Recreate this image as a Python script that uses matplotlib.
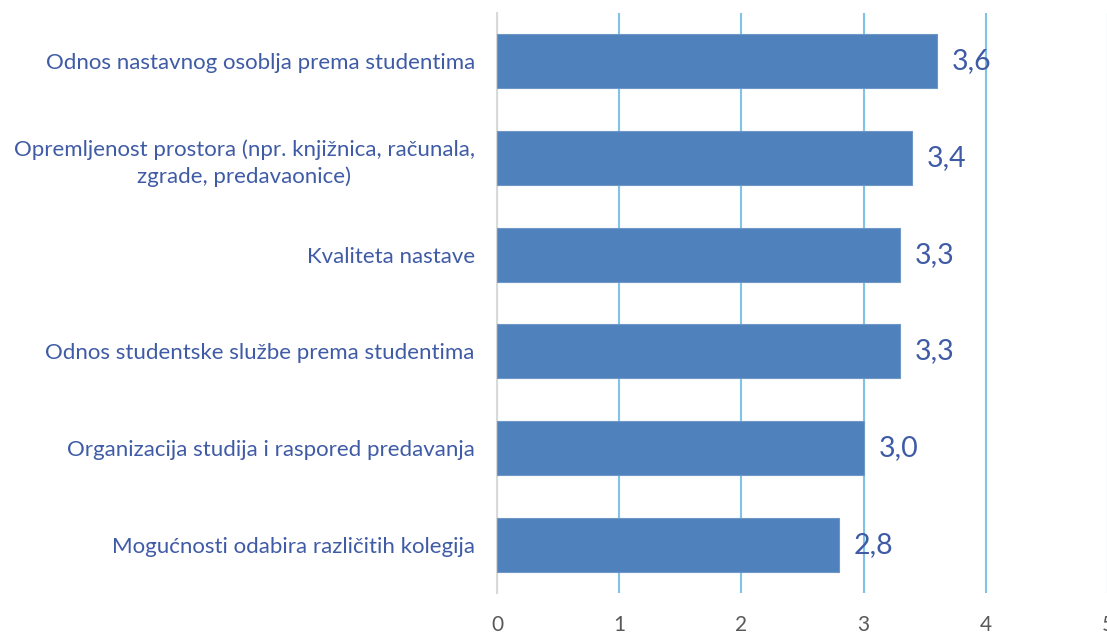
import matplotlib.pyplot as plt
import numpy as np

plt.rcParams['font.family'] = ['Lato', 'DejaVu Sans']

categories = [
    "Odnos nastavnog osoblja prema studentima",
    "Opremljenost prostora (npr. knjižnica, računala,\nzgrade, predavaonice)",
    "Kvaliteta nastave",
    "Odnos studentske službe prema studentima",
    "Organizacija studija i raspored predavanja",
    "Mogućnosti odabira različitih kolegija",
]
values = [3.6, 3.4, 3.3, 3.3, 3.0, 2.8]
value_labels = ["3,6", "3,4", "3,3", "3,3", "3,0", "2,8"]
xticks = [0, 1, 2, 3, 4, 5]

bar_color = "#4F81BD"
text_blue = "#3F5BA6"
grid_color = "#7FC4E6"

fig = plt.figure(figsize=(11.07, 6.33), dpi=100)
ax = fig.add_axes([497 / 1107, 1 - 593 / 633, 611 / 1107, 580 / 633])

y = np.arange(len(categories))
ax.barh(y, values, height=0.56, color=bar_color, edgecolor="#6E97C8", linewidth=0.8, zorder=3)

for yi, v, lab in zip(y, values, value_labels):
    ax.text(v + 0.12, yi, lab, va="center", ha="left", fontsize=20.5, color=text_blue, zorder=4)

ax.set_xlim(0, 5)
ax.set_ylim(len(categories) - 0.5, -0.5)
ax.set_xticks(xticks)
ax.set_xticklabels([str(t) for t in xticks], fontsize=15, color="#595959")
ax.set_yticks(y)
ax.set_yticklabels(categories, fontsize=16, color=text_blue, linespacing=1.4)
for lbl in ax.get_yticklabels():
    lbl.set_multialignment("center")
ax.tick_params(axis="y", length=0, pad=16)
ax.tick_params(axis="x", length=0, pad=16)

ax.grid(axis="x", color=grid_color, linewidth=1.5, zorder=0)
for s in ["top", "right", "bottom"]:
    ax.spines[s].set_visible(False)
ax.spines["left"].set_color("#D9D9D9")
ax.spines["left"].set_linewidth(1.5)
ax.spines["left"].set_zorder(2)

plt.savefig("out.png", dpi=100)
